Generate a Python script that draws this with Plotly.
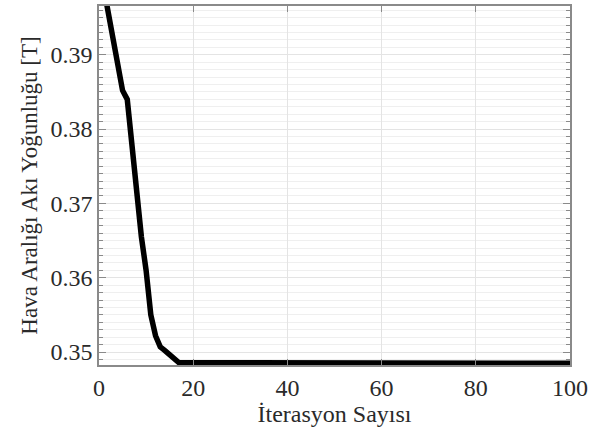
import plotly.graph_objects as go

# Convergence history: best air-gap flux density per iteration
iterations = list(range(1, 101))
flux_head = [0.3990, 0.3955, 0.3927, 0.3890, 0.3852, 0.3840, 0.3772, 0.3708,
             0.3655, 0.3610, 0.3550, 0.3522, 0.3507, 0.3502, 0.3497, 0.3490]
flux_mid = [0.34856] * 54     # iterations 17-70
flux_tail = [0.34850] * 30    # iterations 71-100
flux_density = flux_head + flux_mid + flux_tail

x_ticks = [0, 20, 40, 60, 80, 100]
y_ticks = [0.35, 0.36, 0.37, 0.38, 0.39]
y_tick_labels = ["0.35", "0.36", "0.37", "0.38", "0.39"]

font_family = "Liberation Serif"
axis_color = "#8a8a8a"
grid_color = "#e4e4e4"

fig = go.Figure()
fig.add_trace(go.Scatter(
    x=iterations, y=flux_density, mode="lines",
    line=dict(color="black", width=5.5),
    hoverinfo="skip", showlegend=False,
))

fig.update_layout(
    width=607, height=434,
    margin=dict(l=99, r=37, t=4, b=69),
    paper_bgcolor="white", plot_bgcolor="white",
    font=dict(family=font_family, size=24, color="#2a2a2a"),
)

fig.update_xaxes(
    range=[0, 100], tickvals=x_ticks,
    showline=True, linecolor=axis_color, linewidth=1.5, mirror="allticks",
    ticks="inside", ticklen=6, tickcolor=axis_color,
    showgrid=True, gridcolor=grid_color, gridwidth=1, zeroline=False,
    title=dict(text="İterasyon Sayısı", font=dict(size=24), standoff=2),
    tickfont=dict(size=24),
)

fig.update_yaxes(
    range=[0.34826, 0.39656], tickvals=y_ticks, ticktext=y_tick_labels,
    showline=True, linecolor=axis_color, linewidth=1.5, mirror="allticks",
    ticks="inside", ticklen=7, tickcolor=axis_color,
    showgrid=True, gridcolor=grid_color, gridwidth=1, zeroline=False,
    minor=dict(dtick=0.001, tick0=0.35, ticks="inside", ticklen=4,
               tickcolor=axis_color, showgrid=True, gridcolor="#efefef",
               gridwidth=1),
    title=dict(text="Hava Aralığı Akı Yoğunluğu [T]", font=dict(size=23),
               standoff=6),
    tickfont=dict(size=24),
)

fig.write_html("out.html")
